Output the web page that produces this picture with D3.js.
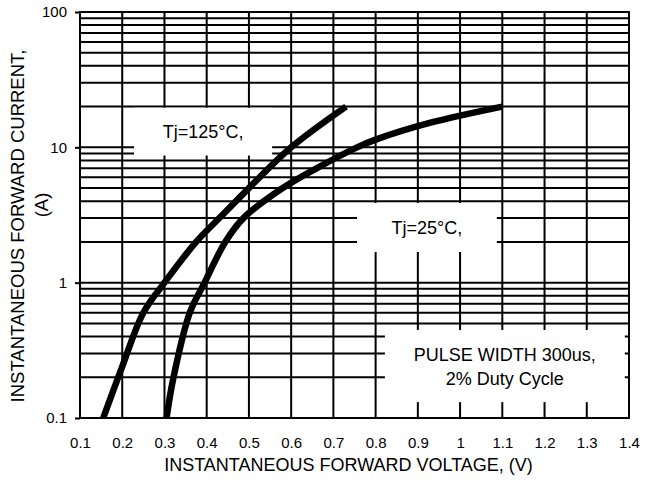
<!DOCTYPE html>
<html>
<head>
<meta charset="utf-8">
<script src="https://cdn.jsdelivr.net/npm/d3@7"></script>
<style>
  body { margin: 0; background: #fff; }
  text { font-family: Arial, "Liberation Sans", sans-serif; fill: #000; }
</style>
</head>
<body>
<script>
// values
const xTicks = [0.1, 0.2, 0.3, 0.4, 0.5, 0.6, 0.7, 0.8, 0.9, 1.0, 1.1, 1.2, 1.3, 1.4];
const yTicks = [0.1, 1, 10, 100];
const yTickLabels = ["0.1", "1", "10", "100"];

// Tj = 125 C
const hotV = [0.155, 0.2, 0.25, 0.3, 0.375, 0.43, 0.5, 0.6, 0.73];
const hotI = [0.1, 0.24, 0.6, 1.0, 2.0, 3.0, 5.0, 10, 20];
// Tj = 25 C
const coldV = [0.305, 0.32, 0.36, 0.395, 0.444, 0.487, 0.58, 0.66, 0.756, 0.8, 0.93, 1.1];
const coldI = [0.1, 0.19, 0.6, 1.0, 2.0, 3.0, 5.0, 7.0, 10, 11.4, 15.2, 20];

// annotation boxes: [x0, x1, yTop, yBottom] in data units
const notes = [
  { lines: ["Tj=125°C,"], box: [0.228, 0.555, 19.6, 8.7] },
  { lines: ["Tj=25°C,"], box: [0.756, 1.087, 3.88, 1.685] },
  { lines: ["PULSE WIDTH 300us,", "2% Duty Cycle"], box: [0.822, 1.39, 0.447, 0.131] }
];

const width = 654, height = 487;
const mLeft = 80, mRight = 629, mTop = 12, mBottom = 418;

const x = d3.scaleLinear().domain([0.1, 1.4]).range([mLeft, mRight]);
const y = d3.scaleLog().domain([0.1, 100]).range([mBottom, mTop]);

const svg = d3.select("body").append("svg")
    .attr("width", width)
    .attr("height", height);

// grid
let minor = [];
[0.1, 1, 10].forEach(dec => { for (let k = 1; k < 10; k++) minor.push(dec * k); });
minor.push(100);

svg.append("g").selectAll("line")
    .data(minor)
    .enter().append("line")
    .attr("x1", mLeft).attr("x2", mRight)
    .attr("y1", d => y(d)).attr("y2", d => y(d))
    .attr("stroke", "#000").attr("stroke-width", 2);

svg.append("g").selectAll("line")
    .data(xTicks)
    .enter().append("line")
    .attr("x1", d => x(d)).attr("x2", d => x(d))
    .attr("y1", mTop).attr("y2", mBottom)
    .attr("stroke", "#000").attr("stroke-width", 2);

// white label boxes over the grid
const ng = svg.append("g");
notes.forEach(n => {
    const x0 = x(n.box[0]), x1 = x(n.box[1]);
    const y0 = y(n.box[2]), y1 = y(n.box[3]);
    ng.append("rect")
        .attr("x", x0).attr("y", y0)
        .attr("width", x1 - x0).attr("height", y1 - y0)
        .attr("fill", "#fff");
    const cx = (x0 + x1) / 2, cy = (y0 + y1) / 2;
    const start = cy + 6.5 - (n.lines.length - 1) * 12;
    n.lines.forEach((t, i) => {
        ng.append("text")
            .attr("x", cx).attr("y", start + i * 24)
            .attr("text-anchor", "middle")
            .style("font-size", "18px")
            .text(t);
    });
});

// curves
const line = d3.line()
    .x(d => x(d[0]))
    .y(d => y(d[1]))
    .curve(d3.curveCatmullRom.alpha(0.5));

[[hotV, hotI], [coldV, coldI]].forEach(s => {
    svg.append("path")
        .datum(s[0].map((v, i) => [v, s[1][i]]))
        .attr("d", line)
        .attr("fill", "none")
        .attr("stroke", "#000")
        .attr("stroke-width", 6.5);
});

// frame
svg.append("rect")
    .attr("x", mLeft).attr("y", mTop)
    .attr("width", mRight - mLeft).attr("height", mBottom - mTop)
    .attr("fill", "none").attr("stroke", "#000").attr("stroke-width", 2);

// axes
const ay = svg.append("g")
    .attr("transform", `translate(${mLeft},0)`)
    .call(d3.axisLeft(y).tickValues(yTicks).tickSize(5).tickPadding(8)
        .tickFormat((d, i) => yTickLabels[i]));
ay.select(".domain").remove();
ay.selectAll(".tick line").attr("stroke-width", 2);
ay.selectAll("text").style("font-size", "15px").style("font-family", "Arial, 'Liberation Sans', sans-serif");

const ax = svg.append("g")
    .attr("transform", `translate(0,${mBottom})`)
    .call(d3.axisBottom(x).tickValues(xTicks).tickSize(0).tickPadding(19)
        .tickFormat(d => String(+d.toFixed(1))));
ax.select(".domain").remove();
ax.selectAll("text").style("font-size", "15px").style("font-family", "Arial, 'Liberation Sans', sans-serif");

// axis titles
svg.append("text")
    .attr("x", (mLeft + mRight) / 2 - 6).attr("y", 471)
    .attr("text-anchor", "middle")
    .style("font-size", "18px")
    .text("INSTANTANEOUS FORWARD VOLTAGE, (V)");

svg.append("text")
    .attr("transform", "translate(24,226) rotate(-90)")
    .attr("text-anchor", "middle")
    .style("font-size", "18.5px")
    .text("INSTANTANEOUS FORWARD CURRENT,");

svg.append("text")
    .attr("transform", "translate(48,205) rotate(-90)")
    .attr("text-anchor", "middle")
    .style("font-size", "18.5px")
    .text("(A)");
</script>
</body>
</html>
